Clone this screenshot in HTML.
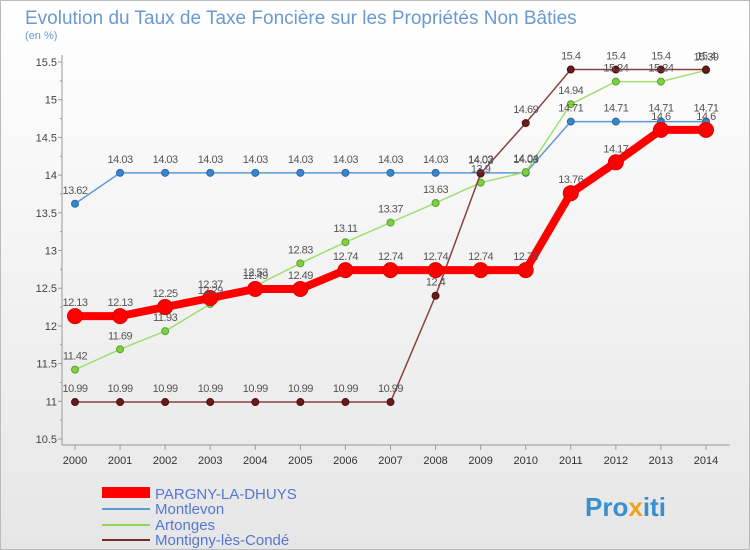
<!DOCTYPE html>
<html><head><meta charset="utf-8"><style>
body{margin:0;width:750px;height:550px;overflow:hidden;font-family:"Liberation Sans",sans-serif;}
svg{display:block}
</style></head><body>
<svg id="c" width="750" height="550" xmlns="http://www.w3.org/2000/svg">
<defs><linearGradient id="bg" x1="0" y1="0" x2="0" y2="1"><stop offset="0" stop-color="#ffffff"/><stop offset="1" stop-color="#e6e6e6"/></linearGradient></defs>
<rect x="0.5" y="0.5" width="749" height="549" fill="url(#bg)" stroke="#bbb"/>
<text x="25" y="24" font-size="19" fill="#6a9ad0">Evolution du Taux de Taxe Foncière sur les Propriétés Non Bâties</text>
<text x="25" y="39" font-size="11" fill="#6a9ad0">(en %)</text>
<g id="axes"></g><g id="series"></g><g id="labels"></g>
<g>
<rect x="102" y="487" width="48" height="11" fill="#ff0000"/>
<text x="155" y="499" font-size="15" fill="#5577d0">PARGNY-LA-DHUYS</text>
<line x1="102" y1="509" x2="150" y2="509" stroke="#5b9bd5" stroke-width="2"/>
<text x="155" y="514" font-size="15" fill="#5577d0">Montlevon</text>
<line x1="102" y1="525" x2="150" y2="525" stroke="#8fd65a" stroke-width="2"/>
<text x="155" y="530" font-size="15" fill="#5577d0">Artonges</text>
<line x1="102" y1="540" x2="150" y2="540" stroke="#7a2b2b" stroke-width="2"/>
<text x="155" y="545" font-size="15" fill="#5577d0">Montigny-lès-Condé</text>
</g>
<text x="585" y="516" font-size="26" font-weight="bold" fill="#3a8fd0">Pro<tspan fill="#f0a020">x</tspan>iti</text>
</svg>
<script>
const years=[2000,2001,2002,2003,2004,2005,2006,2007,2008,2009,2010,2011,2012,2013,2014];
const yTicks=[10.5,11,11.5,12,12.5,13,13.5,14,14.5,15,15.5];
const pargny=[12.13,12.13,12.25,12.37,12.49,12.49,12.74,12.74,12.74,12.74,12.74,13.76,14.17,14.6,14.6];
const montlevon=[13.62,14.03,14.03,14.03,14.03,14.03,14.03,14.03,14.03,14.03,14.03,14.71,14.71,14.71,14.71];
const artonges=[11.42,11.69,11.93,12.29,12.53,12.83,13.11,13.37,13.63,13.9,14.04,14.94,15.24,15.24,15.39];
const montigny=[10.99,10.99,10.99,10.99,10.99,10.99,10.99,10.99,12.4,14.02,14.69,15.4,15.4,15.4,15.4];
const NS="http://www.w3.org/2000/svg";
const X=i=>75+i*(706-75)/(years.length-1);
const Y=v=>62+(15.5-v)*75.4;
function mk(t,a,p){const e=document.createElementNS(NS,t);for(const k in a)e.setAttribute(k,a[k]);p.appendChild(e);return e;}
const ax=document.getElementById('axes'),se=document.getElementById('series'),lb=document.getElementById('labels');
let l=mk('line',{x1:62,y1:55,x2:62,y2:445,stroke:'#999'},ax);


l=mk('line',{x1:62,y1:445,x2:730,y2:445,stroke:'#999'},ax);


yTicks.forEach(v=>{const t=mk('text',{x:57,y:Y(v)+4,'font-size':11,fill:'#444','text-anchor':'end'},ax);t.textContent=v;


mk('line',{x1:58,y1:Y(v),x2:62,y2:Y(v),stroke:'#999'},ax);
if(v<15.5){mk('line',{x1:60,y1:Y(v+0.25),x2:62,y2:Y(v+0.25),stroke:'#999'},ax);}});
years.forEach((yr,i)=>{const t=mk('text',{x:X(i),y:464,'font-size':11,fill:'#333','text-anchor':'middle'},ax);t.textContent=yr;


mk('line',{x1:X(i),y1:445,x2:X(i),y2:450,stroke:'#999'},ax);});
function draw(name,vals,color,w,r,dot,stroke){
const g=mk('g',{},se);


const pl=mk('polyline',{points:vals.map((v,i)=>X(i)+','+Y(v)).join(' '),fill:'none',stroke:color,'stroke-width':w,'stroke-linejoin':'round'},g);


vals.forEach((v,i)=>{const c=mk('circle',{cx:X(i),cy:Y(v),r:r,fill:dot,stroke:stroke,'stroke-width':1},g);


const t=mk('text',{x:X(i),y:Y(v)-10,'font-size':11,fill:'#555','text-anchor':'middle','letter-spacing':'-0.5'},lb);t.textContent=v;

});}
draw('montlevon',montlevon,'#5b9bd5',1.5,3.5,'#3a85c8','#2a6aa8');
draw('artonges',artonges,'#9ee070',1.5,3.5,'#7fd040','#5aa030');
draw('montigny',montigny,'#8a4040',1.5,3.5,'#6a1a1a','#4a1010');
draw('pargny',pargny,'#ff0000',8,7.5,'#ff0000','#dd0000');
</script>
</body></html>
